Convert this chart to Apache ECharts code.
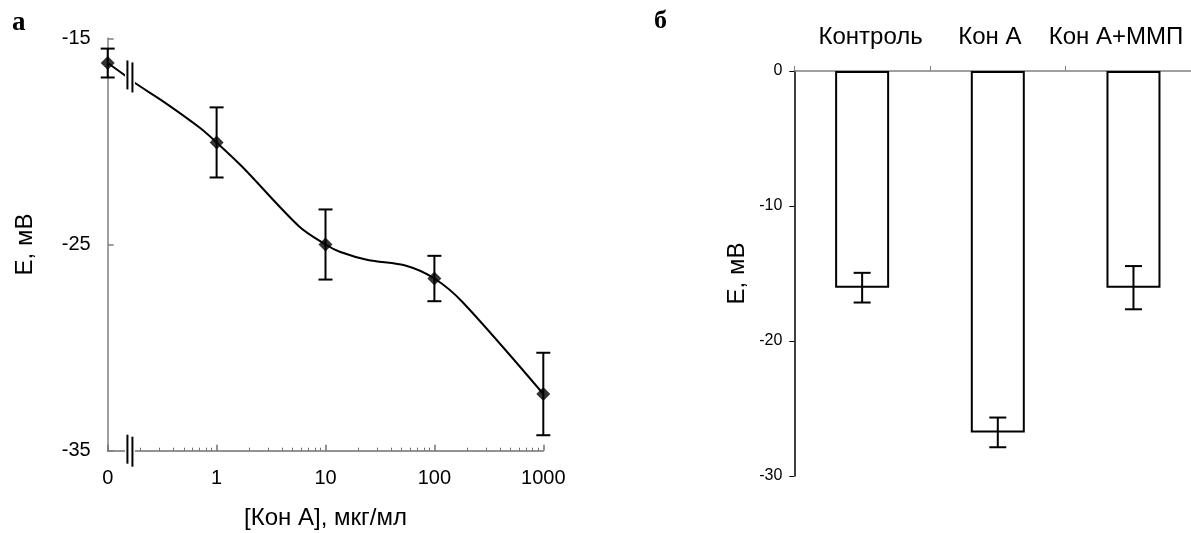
<!DOCTYPE html>
<html>
<head>
<meta charset="utf-8">
<script src="https://cdn.jsdelivr.net/npm/echarts@6/dist/echarts.min.js"></script>
<style>
  html, body { margin: 0; padding: 0; background: #fff; }
  #chart { width: 1191px; height: 533px; }
</style>
</head>
<body>
<div id="chart"></div>
<script>
// panel а: potential vs Con A concentration (log scale, "0" placed one decade below 1)
var concs = [0, 1, 10, 100, 1000];
var meanE = [-16.2, -20.05, -25.0, -26.65, -32.25];
var errE = [0.7, 1.7, 1.7, 1.1, 2.0];
// smoothed curve drawn through the markers
var curveConc = [0, 0.144, 0.178, 0.325, 0.706, 1, 1.72, 5.77, 10, 13.5, 24.5, 55, 100, 181, 1000];
var curveE = [-16.2, -16.8, -17.17, -18.07, -19.35, -20.05, -21.23, -24.14, -25.0, -25.35, -25.75, -26.03, -26.65, -27.79, -32.25];
var xTickLabels = ['0', '1', '10', '100', '1000'];
var breakConc = [0.16, 0.16];
var breakE = [-16.85, -35];

// panel б: bars
var groups = ['Контроль', 'Кон А', 'Кон А+ММП'];
var barE = [-16.05, -26.77, -16.05];
var barErr = [1.1, 1.1, 1.6];

var FONT = "'Liberation Sans', Arial, sans-serif";
var SERIF = "'Liberation Serif', 'Times New Roman', serif";

function pos(c) { return c === 0 ? -1 : Math.log10(c); }

var minorTicks = [];
for (var n = -1; n <= 2; n++) {
  for (var k = 2; k <= 9; k++) minorTicks.push(Math.log10(k * Math.pow(10, n)));
}

function errRender(capW) {
  return function (params, api) {
    var x = api.value(0), m = api.value(1), e = api.value(2);
    var top = api.coord([x, m + e]);
    var bot = api.coord([x, m - e]);
    var st = { stroke: '#000', lineWidth: 2 };
    return {
      type: 'group',
      children: [
        { type: 'line', shape: { x1: top[0], y1: top[1], x2: bot[0], y2: bot[1] }, style: st },
        { type: 'line', shape: { x1: top[0] - capW / 2, y1: top[1], x2: top[0] + capW / 2, y2: top[1] }, style: st },
        { type: 'line', shape: { x1: bot[0] - capW / 2, y1: bot[1], x2: bot[0] + capW / 2, y2: bot[1] }, style: st }
      ]
    };
  };
}

function breakRender(params, api) {
  var p = api.coord([api.value(0), api.value(1)]);
  var st = { stroke: '#000', lineWidth: 2 };
  return {
    type: 'group',
    children: [
      { type: 'rect', shape: { x: p[0] - 5, y: p[1] - 9, width: 10, height: 18 }, style: { fill: '#fff' } },
      { type: 'line', shape: { x1: p[0] - 2.5, y1: p[1] - 16, x2: p[0] - 2.5, y2: p[1] + 13 }, style: st },
      { type: 'line', shape: { x1: p[0] + 2.5, y1: p[1] - 14, x2: p[0] + 2.5, y2: p[1] + 16 }, style: st }
    ]
  };
}

// category labels sit a little off the band centres in the original
var catLabel = { fontSize: 24, color: '#000', fontFamily: FONT };
var catRich = {
  c0: Object.assign({ padding: [0, 0, 0, 17] }, catLabel),
  c1: Object.assign({ padding: [0, 16, 0, 0] }, catLabel),
  c2: Object.assign({ padding: [0, 35, 0, 0] }, catLabel)
};

var chart = echarts.init(document.getElementById('chart'));

var option = {
  animation: false,
  backgroundColor: '#fff',
  textStyle: { fontFamily: FONT },
  title: [
    { text: 'а', left: 12, top: 10, padding: 0,
      textStyle: { fontFamily: SERIF, fontWeight: 'bold', fontSize: 27, color: '#000' } },
    { text: 'б', left: 654, top: 8, padding: 0,
      textStyle: { fontFamily: SERIF, fontWeight: 'bold', fontSize: 26, color: '#000' } }
  ],
  grid: [
    { left: 107.7, top: 38.3, width: 435.6, height: 412.4, outerBoundsMode: 'none' },
    // the plot area runs past the right edge of the picture, as in the original
    { left: 794.3, top: 71, width: 407, height: 405, outerBoundsMode: 'none' }
  ],
  xAxis: [
    {
      type: 'value', gridIndex: 0, min: -1, max: 3, interval: 1,
      name: '[Кон А], мкг/мл', nameLocation: 'middle', nameGap: 56,
      nameTextStyle: { fontSize: 24, color: '#000', fontFamily: FONT },
      axisLine: { show: true, onZero: false, lineStyle: { color: '#707070', width: 1.5 } },
      axisTick: { show: true, inside: true, length: 6, lineStyle: { color: '#707070', width: 1.5 } },
      axisLabel: {
        fontSize: 20, color: '#000', margin: 18, fontFamily: FONT,
        formatter: function (v) { return xTickLabels[Math.round(v) + 1]; }
      },
      splitLine: { show: false }
    },
    {
      type: 'value', gridIndex: 0, min: -1, max: 3, position: 'bottom',
      axisLine: { show: false, onZero: false },
      axisTick: { show: true, inside: true, length: 3, customValues: minorTicks, lineStyle: { color: '#707070', width: 1 } },
      axisLabel: { show: false },
      splitLine: { show: false }
    },
    {
      type: 'category', gridIndex: 1, position: 'top', data: groups,
      axisLine: { show: true, onZero: false, lineStyle: { color: '#808080', width: 1.5 } },
      axisTick: { show: true, length: 5, lineStyle: { color: '#808080', width: 1 } },
      axisLabel: {
        interval: 0, fontSize: 24, color: '#000', margin: 22, fontFamily: FONT,
        formatter: function (v, i) { return '{c' + i + '|' + v + '}'; },
        rich: catRich
      },
      splitLine: { show: false }
    }
  ],
  yAxis: [
    {
      type: 'value', gridIndex: 0, min: -35, max: -15, interval: 10,
      name: 'E, мВ', nameLocation: 'middle', nameGap: 70,
      nameTextStyle: { fontSize: 24, color: '#000', fontFamily: FONT },
      axisLine: { show: true, onZero: false, lineStyle: { color: '#808080', width: 1.5 } },
      axisTick: { show: true, inside: true, length: 6, lineStyle: { color: '#808080', width: 1.5 } },
      axisLabel: { fontSize: 20, color: '#000', margin: 17, fontFamily: FONT },
      splitLine: { show: false }
    },
    {
      type: 'value', gridIndex: 1, min: -30, max: 0, interval: 10,
      name: 'E, мВ', nameLocation: 'middle', nameGap: 45,
      nameTextStyle: { fontSize: 24, color: '#000', fontFamily: FONT },
      axisLine: { show: true, onZero: false, lineStyle: { color: '#000', width: 1.5 } },
      axisTick: { show: true, length: 5, lineStyle: { color: '#000', width: 1 } },
      axisLabel: { fontSize: 16, color: '#000', margin: 12, fontFamily: FONT },
      splitLine: { show: false }
    }
  ],
  series: [
    {
      type: 'line', xAxisIndex: 0, yAxisIndex: 0, smooth: 0.3, showSymbol: false,
      lineStyle: { color: '#000', width: 2 },
      data: curveConc.map(function (c, i) { return [pos(c), curveE[i]]; }),
      z: 2
    },
    {
      type: 'custom', xAxisIndex: 0, yAxisIndex: 0, renderItem: errRender(14),
      data: concs.map(function (c, i) { return [pos(c), meanE[i], errE[i]]; }),
      z: 3
    },
    {
      type: 'scatter', xAxisIndex: 0, yAxisIndex: 0, symbol: 'diamond', symbolSize: 14,
      itemStyle: { color: '#000' },
      data: concs.map(function (c, i) { return [pos(c), meanE[i]]; }),
      z: 4
    },
    {
      type: 'custom', xAxisIndex: 0, yAxisIndex: 0, renderItem: breakRender, clip: false,
      data: breakConc.map(function (c, i) { return [pos(c), breakE[i]]; }),
      z: 5
    },
    {
      type: 'bar', xAxisIndex: 2, yAxisIndex: 1, barWidth: 54,
      itemStyle: { color: '#fff', borderColor: '#000', borderWidth: 2 },
      data: barE,
      z: 2
    },
    {
      type: 'custom', xAxisIndex: 2, yAxisIndex: 1, renderItem: errRender(17),
      data: barE.map(function (v, i) { return [i, v, barErr[i]]; }),
      z: 3
    }
  ]
};

chart.setOption(option);
</script>
</body>
</html>
